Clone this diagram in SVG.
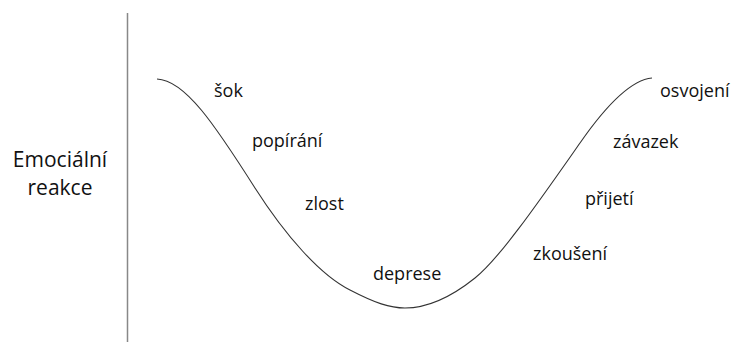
<svg xmlns="http://www.w3.org/2000/svg" width="733" height="342" viewBox="0 0 733 342">
<style>
.lbl{font-family:"Open Sans","Liberation Sans",sans-serif;font-size:18px;fill:#111}
.axis-lbl{font-family:"Open Sans","Liberation Sans",sans-serif;font-size:21px;fill:#111;text-anchor:middle}
.curve{fill:none;stroke:#333;stroke-width:1.1}
.axis{stroke:#888;stroke-width:1.5}
</style>
<rect width="733" height="342" fill="#fff"/>
<g id="connectors">
<line class="axis" x1="127.5" y1="13" x2="127.5" y2="342"/>
<path class="curve" d="M157,79 C185,80 215,125 255,188 C285,235 320,275 350,290 C375,303 390,308 405,308 C425,308 450,298 475,278 C500,258 540,200 580,143 C605,107 630,80 652,78"/>
</g>
<g id="axis-label"><text class="axis-lbl" x="60" y="167">Emociální</text><text class="axis-lbl" x="60" y="195">reakce</text></g>
<g id="sok"><text class="lbl" x="214" y="97">šok</text></g>
<g id="popirani"><text class="lbl" x="252" y="147">popírání</text></g>
<g id="zlost"><text class="lbl" x="305" y="210">zlost</text></g>
<g id="deprese"><text class="lbl" x="373" y="280">deprese</text></g>
<g id="zkouseni"><text class="lbl" x="533" y="260">zkoušení</text></g>
<g id="prijeti"><text class="lbl" x="585" y="205">přijetí</text></g>
<g id="zavazek"><text class="lbl" x="613" y="148">závazek</text></g>
<g id="osvojeni"><text class="lbl" x="660" y="97">osvojení</text></g>
</svg>
